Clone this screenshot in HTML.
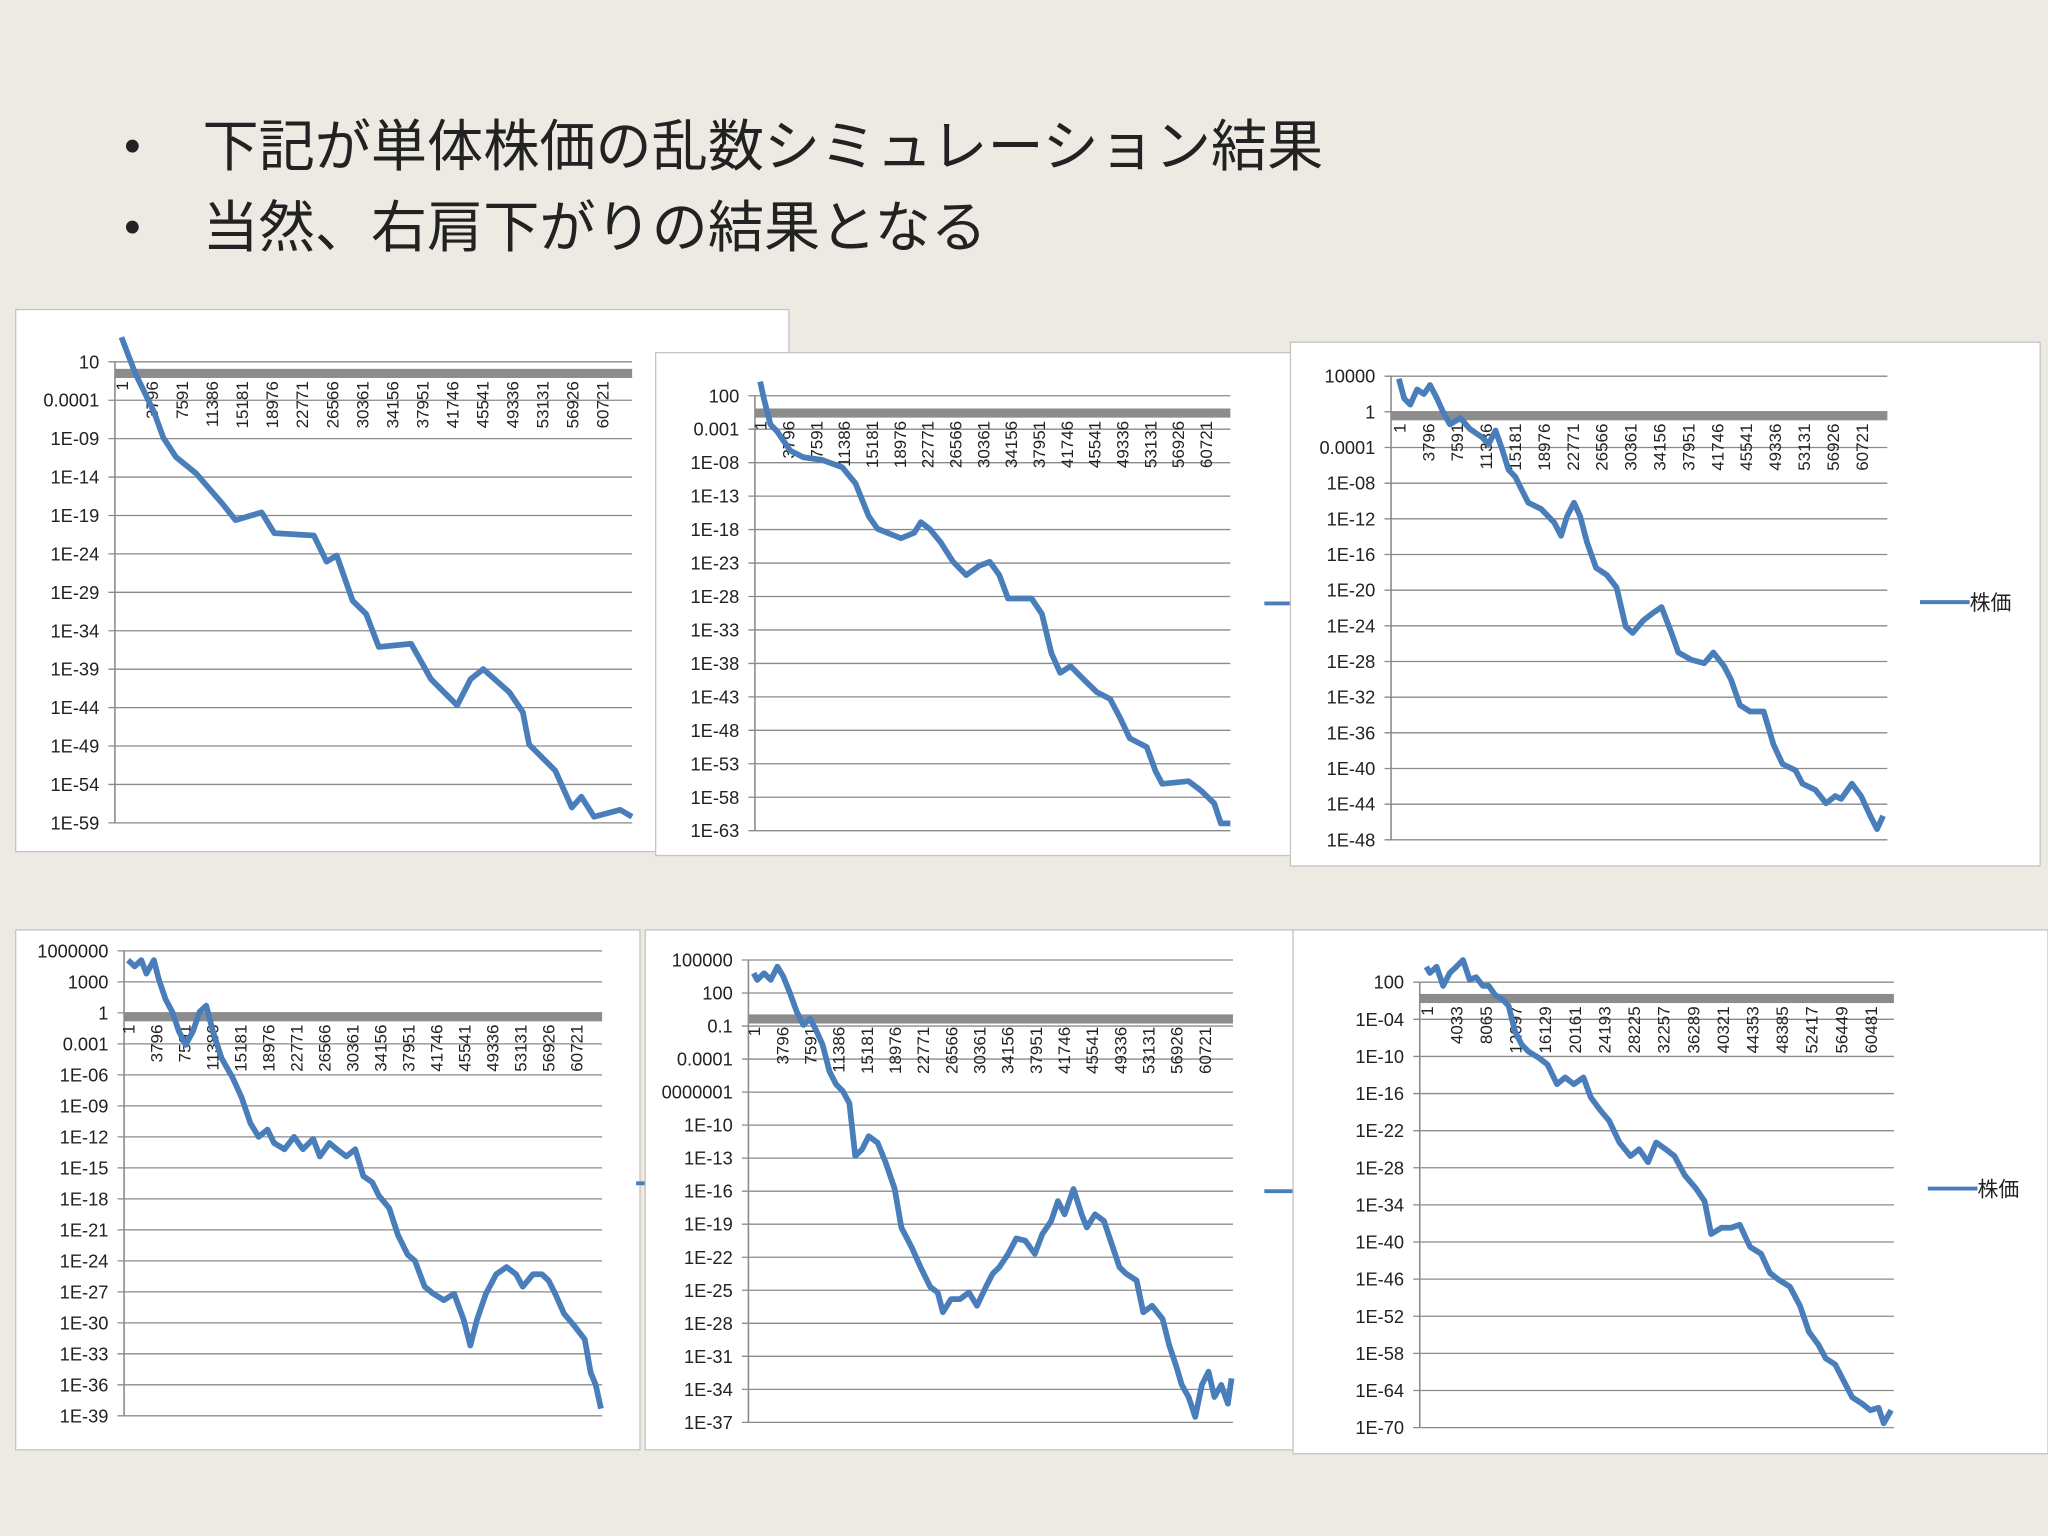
<!DOCTYPE html>
<html><head><meta charset="utf-8"><style>
html,body{margin:0;padding:0;background:#ECEAE2;}
svg{display:block;}
text{font-family:"Liberation Sans","Noto Sans CJK JP",sans-serif;}
</style></head><body>
<svg id="root" width="2048" height="1536" viewBox="0 0 1568 1176" preserveAspectRatio="none" xmlns="http://www.w3.org/2000/svg">
<rect x="0" y="0" width="1568" height="1176" fill="#ECEAE2"/>
<g>
<text x="95" y="124" font-size="36" fill="#222">•</text>
<text x="155" y="127" font-size="43" fill="#222" style='font-family:"Noto Sans CJK JP",sans-serif'>下記が単体株価の乱数シミュレーション結果</text>
<text x="95" y="186" font-size="36" fill="#222">•</text>
<text x="155" y="189" font-size="43" fill="#222" style='font-family:"Noto Sans CJK JP",sans-serif'>当然、右肩下がりの結果となる</text>
</g>
<g id="charts"></g>
</svg>
<script>
// ---- data (k = step index / 1000, v = log10 of price) ----
const catLabelsA = [1,3796,7591,11386,15181,18976,22771,26566,30361,34156,37951,41746,45541,49336,53131,56926,60721];
const catLabelsB = [1,4033,8065,12097,16129,20161,24193,28225,32257,36289,40321,44353,48385,52417,56449,60481];

const c1Ticks = [1,-4,-9,-14,-19,-24,-29,-34,-39,-44,-49,-54,-59];
const c1TickLabels = ["10","0.0001","1E-09","1E-14","1E-19","1E-24","1E-29","1E-34","1E-39","1E-44","1E-49","1E-54","1E-59"];
const c1Steps = [0,1.7,4.1,5.3,6.9,9.4,12.7,14.4,17.7,19.3,24.3,25.9,27.2,29.2,30.9,32.5,36.6,39.1,42.4,44.1,45.7,49,50.7,51.5,54.8,56.9,58.1,59.7,63,64.5];
const c1Values = [4.2,-0.4,-5.5,-8.9,-11.4,-13.5,-17.4,-19.6,-18.6,-21.3,-21.6,-25,-24.2,-30.1,-31.8,-36.1,-35.7,-40.3,-43.7,-40.3,-39,-42,-44.6,-48.8,-52.2,-57,-55.6,-58.2,-57.3,-58.2];

const c2Ticks = [2,-3,-8,-13,-18,-23,-28,-33,-38,-43,-48,-53,-58,-63];
const c2TickLabels = ["100","0.001","1E-08","1E-13","1E-18","1E-23","1E-28","1E-33","1E-38","1E-43","1E-48","1E-53","1E-58","1E-63"];
const c2Steps = [0,0.5,1.4,2.3,4.1,5.9,8.5,11.2,13,14.8,16,19.2,21,21.9,23.1,24.6,26.3,28.1,29.9,31.3,32.6,33.8,37,38.4,39.7,40.9,42.3,44.1,45.9,47.7,49.1,50.4,52.7,53.9,54.8,58.4,60.1,61.9,62.8,64.1];
const c2Values = [4.1,1.6,-2.3,-3.3,-6.2,-7.2,-7.6,-8.7,-11.1,-16,-17.9,-19.3,-18.5,-16.9,-17.9,-19.9,-22.8,-24.8,-23.4,-22.8,-24.8,-28.3,-28.3,-30.6,-36.5,-39.4,-38.4,-40.4,-42.3,-43.3,-46.2,-49.2,-50.5,-54.1,-56,-55.6,-57,-58.9,-61.9,-61.9];

const c3Ticks = [4,0,-4,-8,-12,-16,-20,-24,-28,-32,-36,-40,-44,-48];
const c3TickLabels = ["10000","1","0.0001","1E-08","1E-12","1E-16","1E-20","1E-24","1E-28","1E-32","1E-36","1E-40","1E-44","1E-48"];
const c3Steps = [0,0.7,1.5,2.4,3.3,4.1,5,5.8,6.7,8.1,9.3,11,11.8,12.7,13.6,14.4,15.3,16.1,17,18.7,20.4,21.3,22.1,23,23.8,24.7,25.9,27.3,28.6,29.8,30.7,32.1,33.3,34.5,35.8,36.7,38.4,40.1,41.3,42.7,43.6,44.8,46.1,47.9,49.2,50.4,52.1,53,54.7,56.1,57.3,58.1,59.5,60.7,61.9,62.8,63.6];
const c3Values = [3.7,1.5,0.8,2.5,2,3,1.5,0,-1.4,-0.7,-1.9,-2.9,-3.6,-2.1,-4.3,-6.5,-7.3,-8.7,-10.2,-10.9,-12.4,-13.9,-11.7,-10.2,-11.7,-14.6,-17.5,-18.3,-19.7,-24.1,-24.8,-23.4,-22.6,-21.9,-24.8,-27,-27.8,-28.2,-27,-28.5,-30,-32.9,-33.6,-33.6,-37.3,-39.5,-40.2,-41.7,-42.4,-43.9,-43.1,-43.4,-41.7,-43.1,-45.3,-46.8,-45.3];

const c4Ticks = [6,3,0,-3,-6,-9,-12,-15,-18,-21,-24,-27,-30,-33,-36,-39];
const c4TickLabels = ["1000000","1000","1","0.001","1E-06","1E-09","1E-12","1E-15","1E-18","1E-21","1E-24","1E-27","1E-30","1E-33","1E-36","1E-39"];
const c4Steps = [0,0.9,1.8,2.5,3.5,4.2,5.1,6,6.9,7.8,8.8,9.7,10.6,11.5,12.7,14.2,15.4,16.6,17.7,18.9,19.8,21.2,22.5,23.7,25.1,26,27.3,28.3,29.6,30.8,31.9,33.1,34,35.4,36.6,37.9,38.9,40.2,41.4,42.8,44.2,45.5,46.4,47.3,48.5,49.9,51.3,52.6,53.5,54.9,56.1,57,57.9,59.1,60.5,61.9,62.7,63.4,64.1];
const c4Values = [5.1,4.5,5.1,3.8,5.1,3.2,1.3,0.1,-1.8,-3.1,-1.8,0.1,0.7,-1.8,-4.4,-6.3,-8.2,-10.7,-12,-11.3,-12.6,-13.2,-12,-13.2,-12.2,-13.9,-12.6,-13.2,-13.9,-13.2,-15.8,-16.4,-17.7,-18.9,-21.5,-23.4,-24,-26.5,-27.2,-27.8,-27.2,-29.7,-32.2,-29.7,-27.2,-25.3,-24.6,-25.3,-26.5,-25.3,-25.3,-25.9,-27.2,-29.1,-30.3,-31.6,-34.8,-36,-38.3];

const c5Ticks = [5,2,-1,-4,-7,-10,-13,-16,-19,-22,-25,-28,-31,-34,-37];
const c5TickLabels = ["100000","100","0.1","0.0001","0000001","1E-10","1E-13","1E-16","1E-19","1E-22","1E-25","1E-28","1E-31","1E-34","1E-37"];
const c5Steps = [0,0.5,1.4,2.3,3.2,4,4.9,5.8,6.7,7.6,8.5,9.3,10.2,11.1,12,12.9,13.7,14.6,15.5,16.7,17.8,19,19.9,21.3,22.5,23.8,24.8,25.5,26.6,27.8,29,30.1,31.3,32.2,33.1,34.3,35.4,36.6,37.9,38.9,40.1,41,41.9,43.1,44.2,44.9,46,47.2,48.1,49.3,50.2,51.6,52.5,53.7,55.1,56,56.9,57.7,58.6,59.5,60.4,61.3,62.1,63,63.9,64.4];
const c5Values = [3.8,3.2,3.8,3.2,4.4,3.5,2,0.3,-0.9,-0.3,-1.5,-2.7,-5.1,-6.3,-6.9,-8,-12.8,-12.2,-11,-11.6,-13.4,-15.8,-19.3,-21.1,-22.9,-24.7,-25.2,-27,-25.8,-25.8,-25.2,-26.4,-24.7,-23.5,-22.9,-21.7,-20.3,-20.5,-21.7,-19.9,-18.7,-16.9,-18.1,-15.8,-18.1,-19.3,-18.1,-18.7,-20.5,-22.9,-23.5,-24.1,-27,-26.4,-27.6,-30,-31.8,-33.6,-34.7,-36.5,-33.6,-32.4,-34.7,-33.6,-35.3,-33];

const c6Ticks = [2,-4,-10,-16,-22,-28,-34,-40,-46,-52,-58,-64,-70];
const c6TickLabels = ["100","1E-04","1E-10","1E-16","1E-22","1E-28","1E-34","1E-40","1E-46","1E-52","1E-58","1E-64","1E-70"];
const c6Steps = [0,0.5,1.4,2.3,3.2,4.1,5,5.9,6.8,7.7,8.5,9.4,10.3,11.2,12.1,13,13.9,15.3,16.5,17.8,18.9,20.1,21.4,22.4,23.7,24.9,26.3,27.8,29,30.2,31.3,32.6,33.8,35.2,36.7,37.9,38.8,40.2,41.5,42.7,44.1,45.6,46.8,48,49.5,50.9,52.1,53.4,54.4,55.7,56.6,58,59.3,60.5,61.6,62.3,63.3];
const c6Values = [4.5,3.5,4.5,1.4,3.5,4.5,5.6,2.4,2.8,1.4,1.4,-0.1,-0.7,-1.8,-6,-8.1,-9.2,-10.2,-11.3,-14.5,-13.4,-14.5,-13.4,-16.6,-18.7,-20.4,-23.9,-26.1,-25,-27.1,-23.9,-25,-26.1,-29.2,-31.3,-33.4,-38.7,-37.7,-37.7,-37.2,-40.8,-41.9,-45,-46.1,-47.2,-50.3,-54.5,-56.6,-58.8,-59.8,-61.9,-65.1,-66.1,-67.2,-66.8,-69.3,-67.2];

// ---- layout ----
const charts = [
 {name:"chart-1", panel:[12,237,592,415], plot:[88,484], yTop:277, yBot:630, x0:93, xEnd:461, cats:catLabelsA, ticks:c1Ticks, tl:c1TickLabels, s:c1Steps, v:c1Values, legend:null},
 {name:"chart-2", panel:[502,270,488,385], plot:[578,942], yTop:303, yBot:636, x0:582, xEnd:923, cats:catLabelsA, ticks:c2Ticks, tl:c2TickLabels, s:c2Steps, v:c2Values, legend:[968,462,false]},
 {name:"chart-3", panel:[988,262,574,401], plot:[1065,1445], yTop:288, yBot:643, x0:1071, xEnd:1425, cats:catLabelsA, ticks:c3Ticks, tl:c3TickLabels, s:c3Steps, v:c3Values, legend:[1470,461,true]},
 {name:"chart-4", panel:[12,712,478,398], plot:[95,461], yTop:728, yBot:1084, x0:98, xEnd:441, cats:catLabelsA, ticks:c4Ticks, tl:c4TickLabels, s:c4Steps, v:c4Values, legend:[487,906,false]},
 {name:"chart-5", panel:[494,712,496,398], plot:[573,944], yTop:735, yBot:1089, x0:577, xEnd:922, cats:catLabelsA, ticks:c5Ticks, tl:c5TickLabels, s:c5Steps, v:c5Values, legend:[968,912,false]},
 {name:"chart-6", panel:[990,712,578,401], plot:[1087,1450], yTop:752, yBot:1093, x0:1092, xEnd:1432, cats:catLabelsB, ticks:c6Ticks, tl:c6TickLabels, s:c6Steps, v:c6Values, legend:[1476,910,true]}
];
const NS="http://www.w3.org/2000/svg";
function mk(tag, attrs, parent){const e=document.createElementNS(NS,tag);for(const k in attrs)e.setAttribute(k,attrs[k]);parent.appendChild(e);return e;}
const root=document.getElementById('charts');
charts.forEach(c=>{
  const g=mk('g',{},root);
  
  
  const p=c.panel;
  const bg=mk('rect',{x:p[0],y:p[1],width:p[2],height:p[3],fill:'#fff',stroke:'#c4c4c4','stroke-width':1},g);
  
  
  const eTop=c.ticks[0], eBot=c.ticks[c.ticks.length-1];
  const yScale=e=>c.yTop+(eTop-e)*(c.yBot-c.yTop)/(eTop-eBot);
  const lastCat=c.cats[c.cats.length-1];
  const xScale=k=>c.x0+(k*1000)*(c.xEnd-c.x0)/(lastCat-1);
  c.ticks.forEach((t,i)=>{
    const y=yScale(t);
    const gl=mk('line',{x1:c.plot[0]-5,x2:c.plot[1],y1:y,y2:y,stroke:'#8a8a8a','stroke-width':1},g);
    
    
    const tx=mk('text',{x:c.plot[0]-12,y:y+5,'font-size':14,'text-anchor':'end',fill:'#222'},g);
    tx.textContent=c.tl[i];
    
    
  });
  const ax=mk('line',{x1:c.plot[0],x2:c.plot[0],y1:c.yTop,y2:c.yBot,stroke:'#8a8a8a','stroke-width':1.2},g);
  
  
  const by=yScale(0)+3;
  const bar=mk('rect',{x:c.plot[0],y:by-3.5,width:c.plot[1]-c.plot[0],height:7,fill:'#8c8c8c'},g);
  
  
  c.cats.forEach(cv=>{
    const x=xScale((cv-1)/1000);
    const t=mk('text',{x:0,y:0,'font-size':13,'text-anchor':'end',fill:'#222',transform:`translate(${x+5},${by+6}) rotate(-90)`},g);
    t.textContent=String(cv);
    
    
  });
  const d=c.s.map((k,i)=>(i?'L':'M')+xScale(k).toFixed(1)+','+yScale(c.v[i]).toFixed(1)).join(' ');
  const ln=mk('path',{d:d,fill:'none',stroke:'#4a7ebb','stroke-width':4.4,'stroke-linejoin':'round'},g);
  
  
  if(c.legend){
    const L=c.legend;
    const lg=mk('line',{x1:L[0],x2:L[0]+(L[2]?38:22),y1:L[1],y2:L[1],stroke:'#4a7ebb','stroke-width':3},g);
    
    
    if(L[2]){
      const lt=mk('text',{x:L[0]+38,y:L[1]+6,'font-size':16,fill:'#222'},g);
      lt.textContent='株価';
      
      
    }
  }
});
</script>
</body></html>
